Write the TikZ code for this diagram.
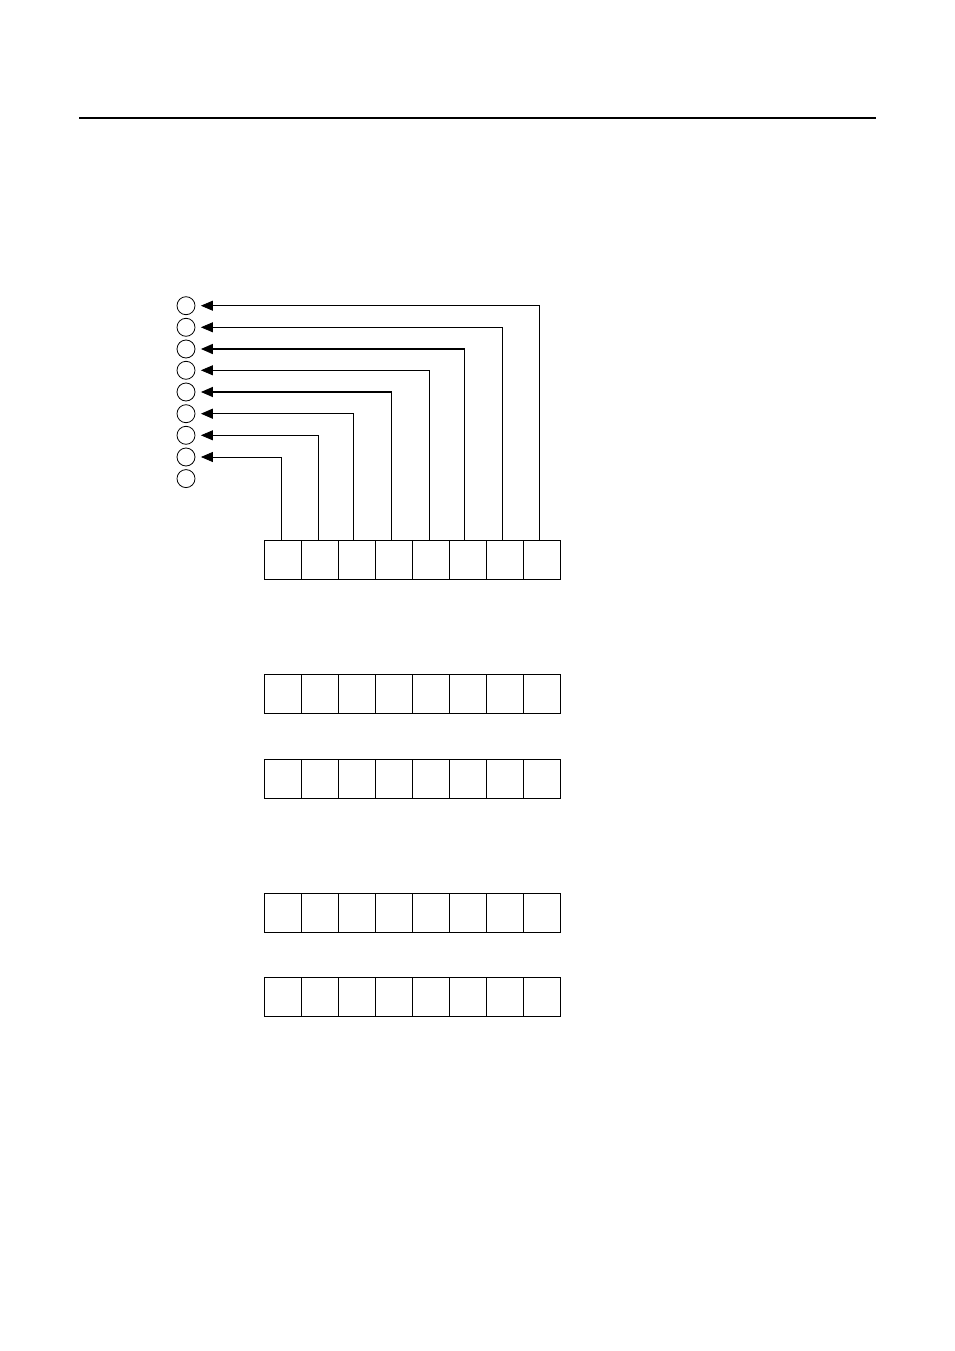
\documentclass[tikz,border=0pt]{standalone}
\usetikzlibrary{arrows.meta}
\begin{document}
\begin{tikzpicture}[x=1pt,y=-1pt,
  cell/.style={draw,line width=1pt,minimum width=37pt,minimum height=39pt,inner sep=0pt,anchor=north west},
  pin/.style={draw,circle,line width=0.8pt,minimum size=18pt,inner sep=0pt},
  conn/.style={line width=0.8pt,-{Triangle[length=12pt,width=10pt]},shorten >=5.5pt},
  bold/.style={line width=1.6pt},
  rule/.style={line width=2pt}]
\useasboundingbox (0,0) rectangle (954,1351);
\coordinate (hl) at (79,118);
\coordinate (hr) at (876,118);
\draw[rule] (hl) -- (hr);
% circles
\foreach \i/\y in {1/305.7,2/327.3,3/349,4/370.3,5/392,6/413.7,7/435.3,8/457,9/478.6}
  \node[pin] (c\i) at (186,\y) {};
% box rows
\foreach \r/\y/\h in {1/540/39.3,2/674.3/38.4,3/758.7/39,4/892.7/39.3,5/976.7/39.3}
  \foreach \k in {0,...,7}
    \node[cell,minimum height=\h pt] (r\r c\k) at ({264.3+37*\k},\y) {};
% connectors
\draw[conn] ([xshift=-3pt]r1c7.north) |- (c1.east);
\draw[conn] ([xshift=-3pt]r1c6.north) |- (c2.east);
\draw[conn,bold] ([xshift=-3.8pt]r1c5.north) |- (c3.east);
\draw[conn] ([xshift=-1.5pt]r1c4.north) |- (c4.east);
\draw[conn,line width=1.3pt] ([xshift=-2.8pt]r1c3.north) |- (c5.east);
\draw[conn,line width=1.3pt] ([xshift=-3.5pt]r1c2.north) |- (c6.east);
\draw[conn] ([xshift=-1.5pt]r1c1.north) |- (c7.east);
\draw[conn] ([xshift=-1.8pt]r1c0.north) |- (c8.east);
\end{tikzpicture}
\end{document}
